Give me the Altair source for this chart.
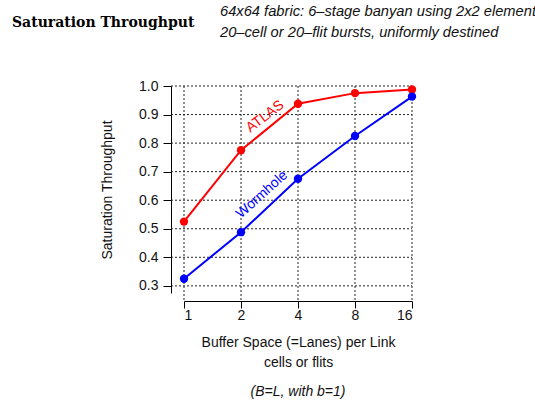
import altair as alt
import pandas as pd

# ---- data ----
buffer_space = [1, 2, 4, 8, 16]
atlas = [0.525, 0.775, 0.938, 0.975, 0.988]
wormhole = [0.325, 0.488, 0.675, 0.825, 0.963]
y_ticks = [0.3, 0.4, 0.5, 0.6, 0.7, 0.8, 0.9, 1.0]
x_ticks = [1, 2, 4, 8, 16]
series_names = ["ATLAS", "Wormhole"]
series_colors = ["#ff0000", "#0000ff"]

# label annotations (data coords)
label_x = [2.68, 2.58]
label_y = [0.893, 0.62]

rows = []
for b, a, w in zip(buffer_space, atlas, wormhole):
    rows.append({"buffer": b, "thr": a, "series": "ATLAS"})
    rows.append({"buffer": b, "thr": w, "series": "Wormhole"})
df = pd.DataFrame(rows)

W, H = 228, 207
FONT = "Liberation Sans"

xscale = alt.Scale(type="log", base=2, domain=[1, 16], nice=False)
yscale = alt.Scale(domain=[0.275, 1.0], nice=False, zero=False)

xaxis = alt.Axis(values=x_ticks, format="d", grid=False, offset=8,
                 domainColor="black", tickColor="black", tickSize=7,
                 labelPadding=0, labelFontSize=14, labelFont=FONT,
                 labelColor="#111", title=["Buffer Space (=Lanes) per Link", "cells or flits"],
                 titleFont=FONT, titleFontSize=14, titleFontWeight="normal",
                 titleColor="#111", titlePadding=13, titleLineHeight=20)
yaxis = alt.Axis(values=y_ticks, format=".1f", grid=False, offset=13,
                 domainColor="black", tickColor="black", tickSize=8,
                 labelPadding=5, labelFontSize=14, labelFont=FONT,
                 labelColor="#111", title="Saturation Throughput",
                 titleFont=FONT, titleFontSize=14, titleFontWeight="normal",
                 titleColor="#111", titlePadding=24)

X = lambda: alt.X("buffer:Q", scale=xscale, axis=xaxis)
Y = lambda: alt.Y("thr:Q", scale=yscale, axis=yaxis)
C = lambda: alt.Color("series:N", scale=alt.Scale(domain=series_names, range=series_colors), legend=None)

base = alt.Chart(df)
lines = base.mark_line(strokeWidth=2).encode(x=X(), y=Y(), color=C())
points = base.mark_circle(size=70, opacity=1).encode(x=X(), y=Y(), color=C())

hgrid = alt.Chart(pd.DataFrame({"thr": y_ticks})).mark_rule(
    color="#222", strokeDash=[2, 2], strokeWidth=1).encode(
    y=Y(), x=alt.value(-13), x2=alt.value(W))
vgrid = alt.Chart(pd.DataFrame({"buffer": x_ticks})).mark_rule(
    color="#222", strokeDash=[2, 2], strokeWidth=1).encode(
    x=X(), y=alt.value(0), y2=alt.value(H + 8))

lab_df = pd.DataFrame({"buffer": label_x, "thr": label_y, "t": series_names})
atlas_lab = alt.Chart(lab_df.iloc[[0]]).mark_text(
    angle=323, font=FONT, fontSize=14, color="#ff0000").encode(x=X(), y=Y(), text="t:N")
worm_lab = alt.Chart(lab_df.iloc[[1]]).mark_text(
    angle=318, font=FONT, fontSize=14, color="#0000ff").encode(x=X(), y=Y(), text="t:N")

title_txt = alt.Chart(pd.DataFrame({"t": ["Saturation Throughput"]})).mark_text(
    font="DejaVu Serif", fontWeight="bold", fontSize=14, align="left", baseline="alphabetic",
    color="black").encode(x=alt.value(-172), y=alt.value(-59), text="t:N")
sub1 = alt.Chart(pd.DataFrame({"t": ["64x64 fabric: 6\u2013stage banyan using 2x2 elements"]})).mark_text(
    font=FONT, fontStyle="italic", fontSize=14.7, align="left", baseline="middle",
    color="#111").encode(x=alt.value(36), y=alt.value(-74), text="t:N")
sub2 = alt.Chart(pd.DataFrame({"t": ["20\u2013cell or 20\u2013flit bursts, uniformly destined"]})).mark_text(
    font=FONT, fontStyle="italic", fontSize=14.7, align="left", baseline="middle",
    color="#111").encode(x=alt.value(36), y=alt.value(-53), text="t:N")
note_txt = alt.Chart(pd.DataFrame({"t": ["(B=L, with b=1)"]})).mark_text(
    font=FONT, fontStyle="italic", fontSize=14, align="center", baseline="middle",
    color="#111").encode(x=alt.value(W / 2), y=alt.value(306), text="t:N")

chart = alt.layer(hgrid, vgrid, lines, points, atlas_lab, worm_lab, title_txt, sub1, sub2, note_txt).properties(
    width=W, height=H,
    autosize=alt.AutoSizeParams(type="none"),
    padding={"left": 184, "top": 86, "right": 123, "bottom": 114},
    background="white",
).configure_view(stroke=None)

chart.save("out.html", embed_options={"renderer": "svg", "actions": False})
